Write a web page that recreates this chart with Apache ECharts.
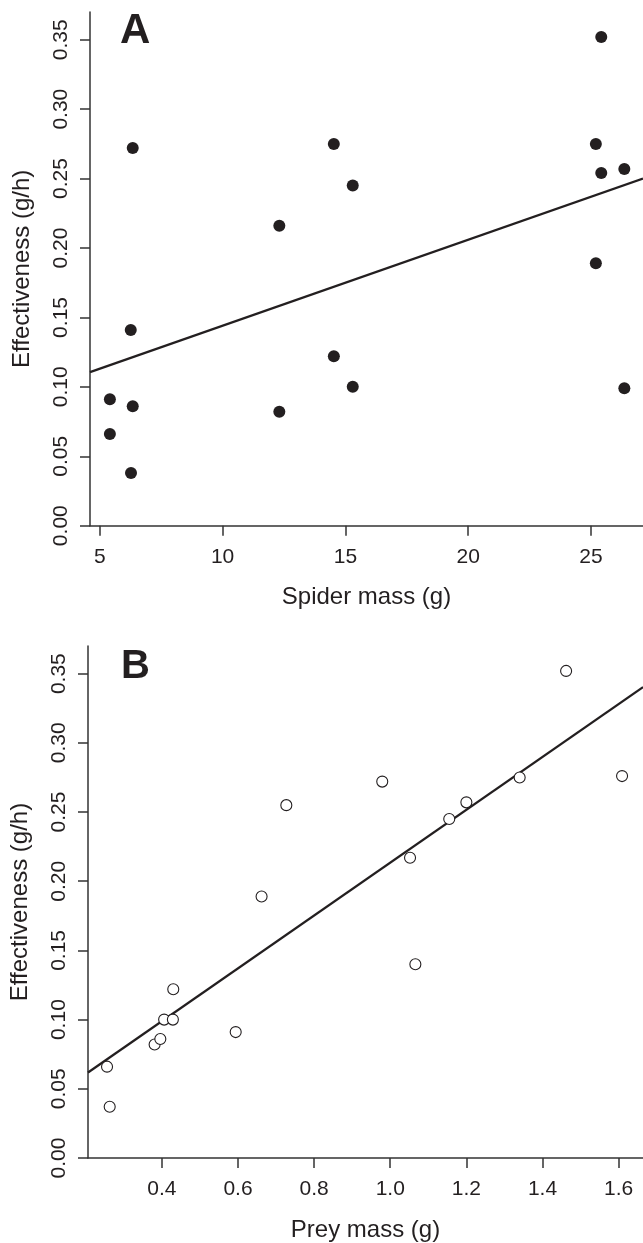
<!DOCTYPE html>
<html>
<head>
<meta charset="utf-8">
<script src="https://cdn.jsdelivr.net/npm/echarts@6/dist/echarts.min.js"></script>
<style>
  html, body { margin: 0; padding: 0; background: #fff; }
  #main { width: 643px; height: 1243px; }
</style>
</head>
<body>
<div id="main"></div>
<script>
// panel A: spider mass vs effectiveness
var spiderMass = [6.34, 6.26, 5.41, 6.34, 5.41, 6.27, 12.31, 12.31, 14.53, 14.53, 15.30, 15.30, 25.42, 25.20, 25.42, 26.36, 25.20, 26.36];
var effA = [0.272, 0.141, 0.091, 0.086, 0.066, 0.038, 0.216, 0.082, 0.275, 0.122, 0.245, 0.100, 0.352, 0.275, 0.254, 0.257, 0.189, 0.099];
var fitAx = [4.6, 27.12];
var fitAy = [0.1106, 0.2500];

// panel B: prey mass vs effectiveness
var preyMass = [0.256, 0.263, 0.381, 0.396, 0.406, 0.429, 0.430, 0.594, 0.662, 0.727, 0.979, 1.052, 1.066, 1.155, 1.200, 1.340, 1.462, 1.609];
var effB = [0.066, 0.037, 0.082, 0.086, 0.100, 0.100, 0.122, 0.091, 0.189, 0.255, 0.272, 0.217, 0.140, 0.245, 0.257, 0.275, 0.352, 0.276];
var fitBx = [0.206, 1.664];
var fitBy = [0.0618, 0.3403];

var yTicks = [0, 0.05, 0.10, 0.15, 0.20, 0.25, 0.30, 0.35];
var xTicksA = [5, 10, 15, 20, 25];
var xTicksB = [0.4, 0.6, 0.8, 1.0, 1.2, 1.4, 1.6];

var ink = '#231f20';
var fontFam = 'Liberation Sans, Arial, sans-serif';

function pairs(xs, ys) {
  return xs.map(function (x, i) { return [x, ys[i]]; });
}

function xAxisCfg(idx, min, max, ticks, dec, name) {
  return {
    gridIndex: idx, type: 'value', min: min, max: max,
    name: name, nameLocation: 'middle', nameGap: 60,
    nameTextStyle: { fontSize: 24, color: ink, fontFamily: fontFam },
    splitLine: { show: false },
    axisLine: { lineStyle: { color: '#333', width: 1.5 } },
    axisTick: { length: 10, lineStyle: { color: '#333', width: 1.5 }, customValues: ticks },
    axisLabel: { customValues: ticks, margin: 21, fontSize: 21, color: ink, fontFamily: fontFam,
      formatter: function (v) { return dec ? v.toFixed(dec) : String(v); } }
  };
}

function yAxisCfg(idx) {
  return {
    gridIndex: idx, type: 'value', min: 0, max: 0.37,
    name: 'Effectiveness (g/h)', nameLocation: 'middle', nameGap: 56,
    nameTextStyle: { fontSize: 24, color: ink, fontFamily: fontFam },
    splitLine: { show: false },
    axisLine: { show: true, lineStyle: { color: '#333', width: 1.5 } },
    axisTick: { show: true, length: 10, lineStyle: { color: '#333', width: 1.5 }, customValues: yTicks },
    axisLabel: { customValues: yTicks, rotate: 90, margin: 18, fontSize: 21, color: ink, fontFamily: fontFam,
      formatter: function (v) { return v.toFixed(2); } }
  };
}

var chart = echarts.init(document.getElementById('main'), null, { renderer: 'canvas' });

chart.setOption({
  animation: false,
  backgroundColor: '#fff',
  grid: [
    { left: 90, right: 0, top: 12, height: 513.7 },
    { left: 88, right: 0, top: 646, height: 514 }
  ],
  xAxis: [
    xAxisCfg(0, 4.6, 27.12, xTicksA, 0, 'Spider mass (g)'),
    xAxisCfg(1, 0.206, 1.664, xTicksB, 1, 'Prey mass (g)')
  ],
  yAxis: [yAxisCfg(0), yAxisCfg(1)],
  graphic: [
    { type: 'text', left: 120, top: 10, style: { text: 'A', font: 'bold 42px ' + fontFam, fill: ink } },
    { type: 'text', left: 121, top: 647, style: { text: 'B', font: 'bold 40px ' + fontFam, fill: ink } }
  ],
  series: [
    {
      type: 'line', xAxisIndex: 0, yAxisIndex: 0, data: pairs(fitAx, fitAy),
      showSymbol: false, lineStyle: { color: ink, width: 2.2 }, z: 1
    },
    {
      type: 'scatter', xAxisIndex: 0, yAxisIndex: 0, data: pairs(spiderMass, effA),
      symbol: 'circle', symbolSize: 12, itemStyle: { color: ink, opacity: 1 }, z: 2
    },
    {
      type: 'line', xAxisIndex: 1, yAxisIndex: 1, data: pairs(fitBx, fitBy),
      showSymbol: false, lineStyle: { color: ink, width: 2.2 }, z: 1
    },
    {
      type: 'scatter', xAxisIndex: 1, yAxisIndex: 1, data: pairs(preyMass, effB),
      symbol: 'circle', symbolSize: 11,
      itemStyle: { color: '#fff', borderColor: ink, borderWidth: 1.1, opacity: 1 }, z: 2
    }
  ]
});
</script>
</body>
</html>
